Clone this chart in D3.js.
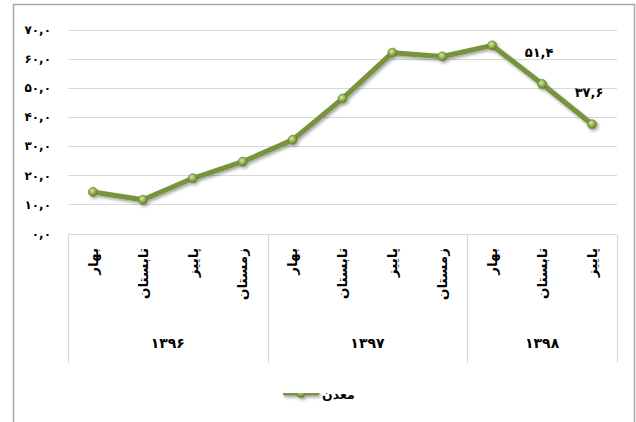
<!DOCTYPE html>
<html>
<head>
<meta charset="utf-8">
<script src="https://cdn.jsdelivr.net/npm/d3@7"></script>
<style>
  body { margin: 0; background: #fff; }
  svg text { font-family: "DejaVu Sans", sans-serif; font-weight: bold; fill: #000; }
</style>
</head>
<body>
<div id="chart"></div>
<script>
const seasons = ['بهار', 'تابستان', 'پاییز', 'زمستان', 'بهار', 'تابستان', 'پاییز', 'زمستان', 'بهار', 'تابستان', 'پاییز'];
const years = ['۱۳۹۶', '۱۳۹۷', '۱۳۹۸'];
const yearSizes = [4, 4, 3];
const values = [14.3, 11.6, 19.0, 24.7, 32.2, 46.4, 62.2, 60.9, 64.7, 51.4, 37.6];
const labelled = [9, 10];
const yTicks = [0, 10, 20, 30, 40, 50, 60, 70];
const seriesName = 'معدن';

const width = 636, height = 422;
const margin = { top: 30, left: 68, right: 19, bottom: 188.5 };
const green = '#77933c';

const fa = s => s.replace(/[0-9]/g, d => '۰۱۲۳۴۵۶۷۸۹'[d]).replace('.', ',');
const fmt = v => fa(d3.format('.1f')(v));

const svg = d3.select('#chart').append('svg')
  .attr('width', width)
  .attr('height', height);

const defs = svg.append('defs');
const grad = defs.append('radialGradient').attr('id', 'dot').attr('cx', '40%').attr('cy', '35%').attr('r', '65%');
grad.append('stop').attr('offset', '0%').attr('stop-color', '#d6e8a8');
grad.append('stop').attr('offset', '55%').attr('stop-color', '#8fb248');
grad.append('stop').attr('offset', '100%').attr('stop-color', '#5f7a2c');
const shadow = defs.append('filter').attr('id', 'shadow')
  .attr('filterUnits', 'userSpaceOnUse')
  .attr('x', 0).attr('y', 0).attr('width', width).attr('height', height);
shadow.append('feDropShadow').attr('dx', 1.5).attr('dy', 2).attr('stdDeviation', 1.5).attr('flood-color', '#000').attr('flood-opacity', 0.35);

// outer frame
svg.append('rect')
  .attr('x', 13.5).attr('y', 4.5)
  .attr('width', 621).attr('height', 440)
  .attr('fill', 'none').attr('stroke', '#a6a6a6').attr('stroke-width', 1.5);

const x = d3.scaleBand().domain(d3.range(values.length)).range([margin.left, width - margin.right]);
const y = d3.scaleLinear().domain([0, 70]).range([height - margin.bottom, margin.top]);

// gridlines
svg.append('g').selectAll('line')
  .data(yTicks.slice(1))
  .enter().append('line')
  .attr('x1', margin.left).attr('x2', width - margin.right)
  .attr('y1', d => Math.round(y(d)) + 0.5).attr('y2', d => Math.round(y(d)) + 0.5)
  .attr('stroke', '#d9d9d9').attr('stroke-width', 1.2);

// y tick labels
svg.append('g').selectAll('text')
  .data(yTicks)
  .enter().append('text')
  .attr('x', 51).attr('y', d => y(d))
  .attr('dy', '0.35em')
  .attr('text-anchor', 'end')
  .style('font-size', '12px')
  .text(fmt);

// category box
const catTop = Math.round(y(0)) + 0.5, catBottom = 363;
svg.append('line')
  .attr('x1', margin.left).attr('x2', width - margin.right)
  .attr('y1', catTop).attr('y2', catTop)
  .attr('stroke', '#d9d9d9').attr('stroke-width', 1.2);

let start = 0;
const groups = yearSizes.map((n, i) => {
  const g = { name: years[i], from: start, to: start + n - 1 };
  start += n;
  return g;
});
const bounds = [0].concat(groups.map(g => g.to + 1));
svg.append('g').selectAll('line')
  .data(bounds)
  .enter().append('line')
  .attr('x1', d => Math.round(d < values.length ? x(d) : x(d - 1) + x.bandwidth()) + 0.5)
  .attr('x2', d => Math.round(d < values.length ? x(d) : x(d - 1) + x.bandwidth()) + 0.5)
  .attr('y1', catTop).attr('y2', catBottom)
  .attr('stroke', '#d9d9d9').attr('stroke-width', 1.2);

// season labels (rotated)
svg.append('g').selectAll('text')
  .data(seasons)
  .enter().append('text')
  .attr('transform', (d, i) => `translate(${x(i) + x.bandwidth() / 2},248) rotate(-90)`)
  .attr('text-anchor', 'end')
  .attr('dy', '0.35em')
  .style('font-size', '13.5px')
  .text(d => d);

// year labels
svg.append('g').selectAll('text')
  .data(groups)
  .enter().append('text')
  .attr('x', g => (x(g.from) + x(g.to) + x.bandwidth()) / 2)
  .attr('y', 343)
  .attr('dy', '0.35em')
  .attr('text-anchor', 'middle')
  .style('font-size', '14px')
  .text(g => g.name);

// series
const line = d3.line()
  .x((d, i) => x(i) + x.bandwidth() / 2)
  .y(d => y(d));

const series = svg.append('g').attr('filter', 'url(#shadow)');
series.append('path')
  .datum(values)
  .attr('fill', 'none')
  .attr('stroke', green)
  .attr('stroke-width', 5)
  .attr('stroke-linejoin', 'round')
  .attr('d', line);

series.selectAll('circle')
  .data(values)
  .enter().append('circle')
  .attr('cx', (d, i) => x(i) + x.bandwidth() / 2)
  .attr('cy', d => y(d))
  .attr('r', 4.5)
  .attr('fill', 'url(#dot)')
  .attr('stroke', '#6b8735')
  .attr('stroke-width', 0.8);

// data labels
svg.append('g').selectAll('text')
  .data(labelled)
  .enter().append('text')
  .attr('x', i => x(i) + x.bandwidth() / 2 - 3)
  .attr('y', i => y(values[i]) - 32)
  .attr('dy', '0.35em')
  .attr('text-anchor', 'middle')
  .style('font-size', '13px')
  .text(i => fmt(values[i]));

// legend
const legend = svg.append('g').attr('transform', 'translate(283,393)');
const sample = legend.append('g').attr('filter', 'url(#shadow)');
sample.append('line')
  .attr('x1', 2).attr('x2', 34)
  .attr('stroke', green).attr('stroke-width', 5).attr('stroke-linecap', 'round');
sample.append('circle')
  .attr('cx', 18).attr('r', 4.5)
  .attr('fill', 'url(#dot)').attr('stroke', '#6b8735').attr('stroke-width', 0.8);
legend.append('text')
  .attr('x', 39).attr('y', 2)
  .attr('dy', '0.35em')
  .style('font-size', '12.5px')
  .text(seriesName);
</script>
</body>
</html>
